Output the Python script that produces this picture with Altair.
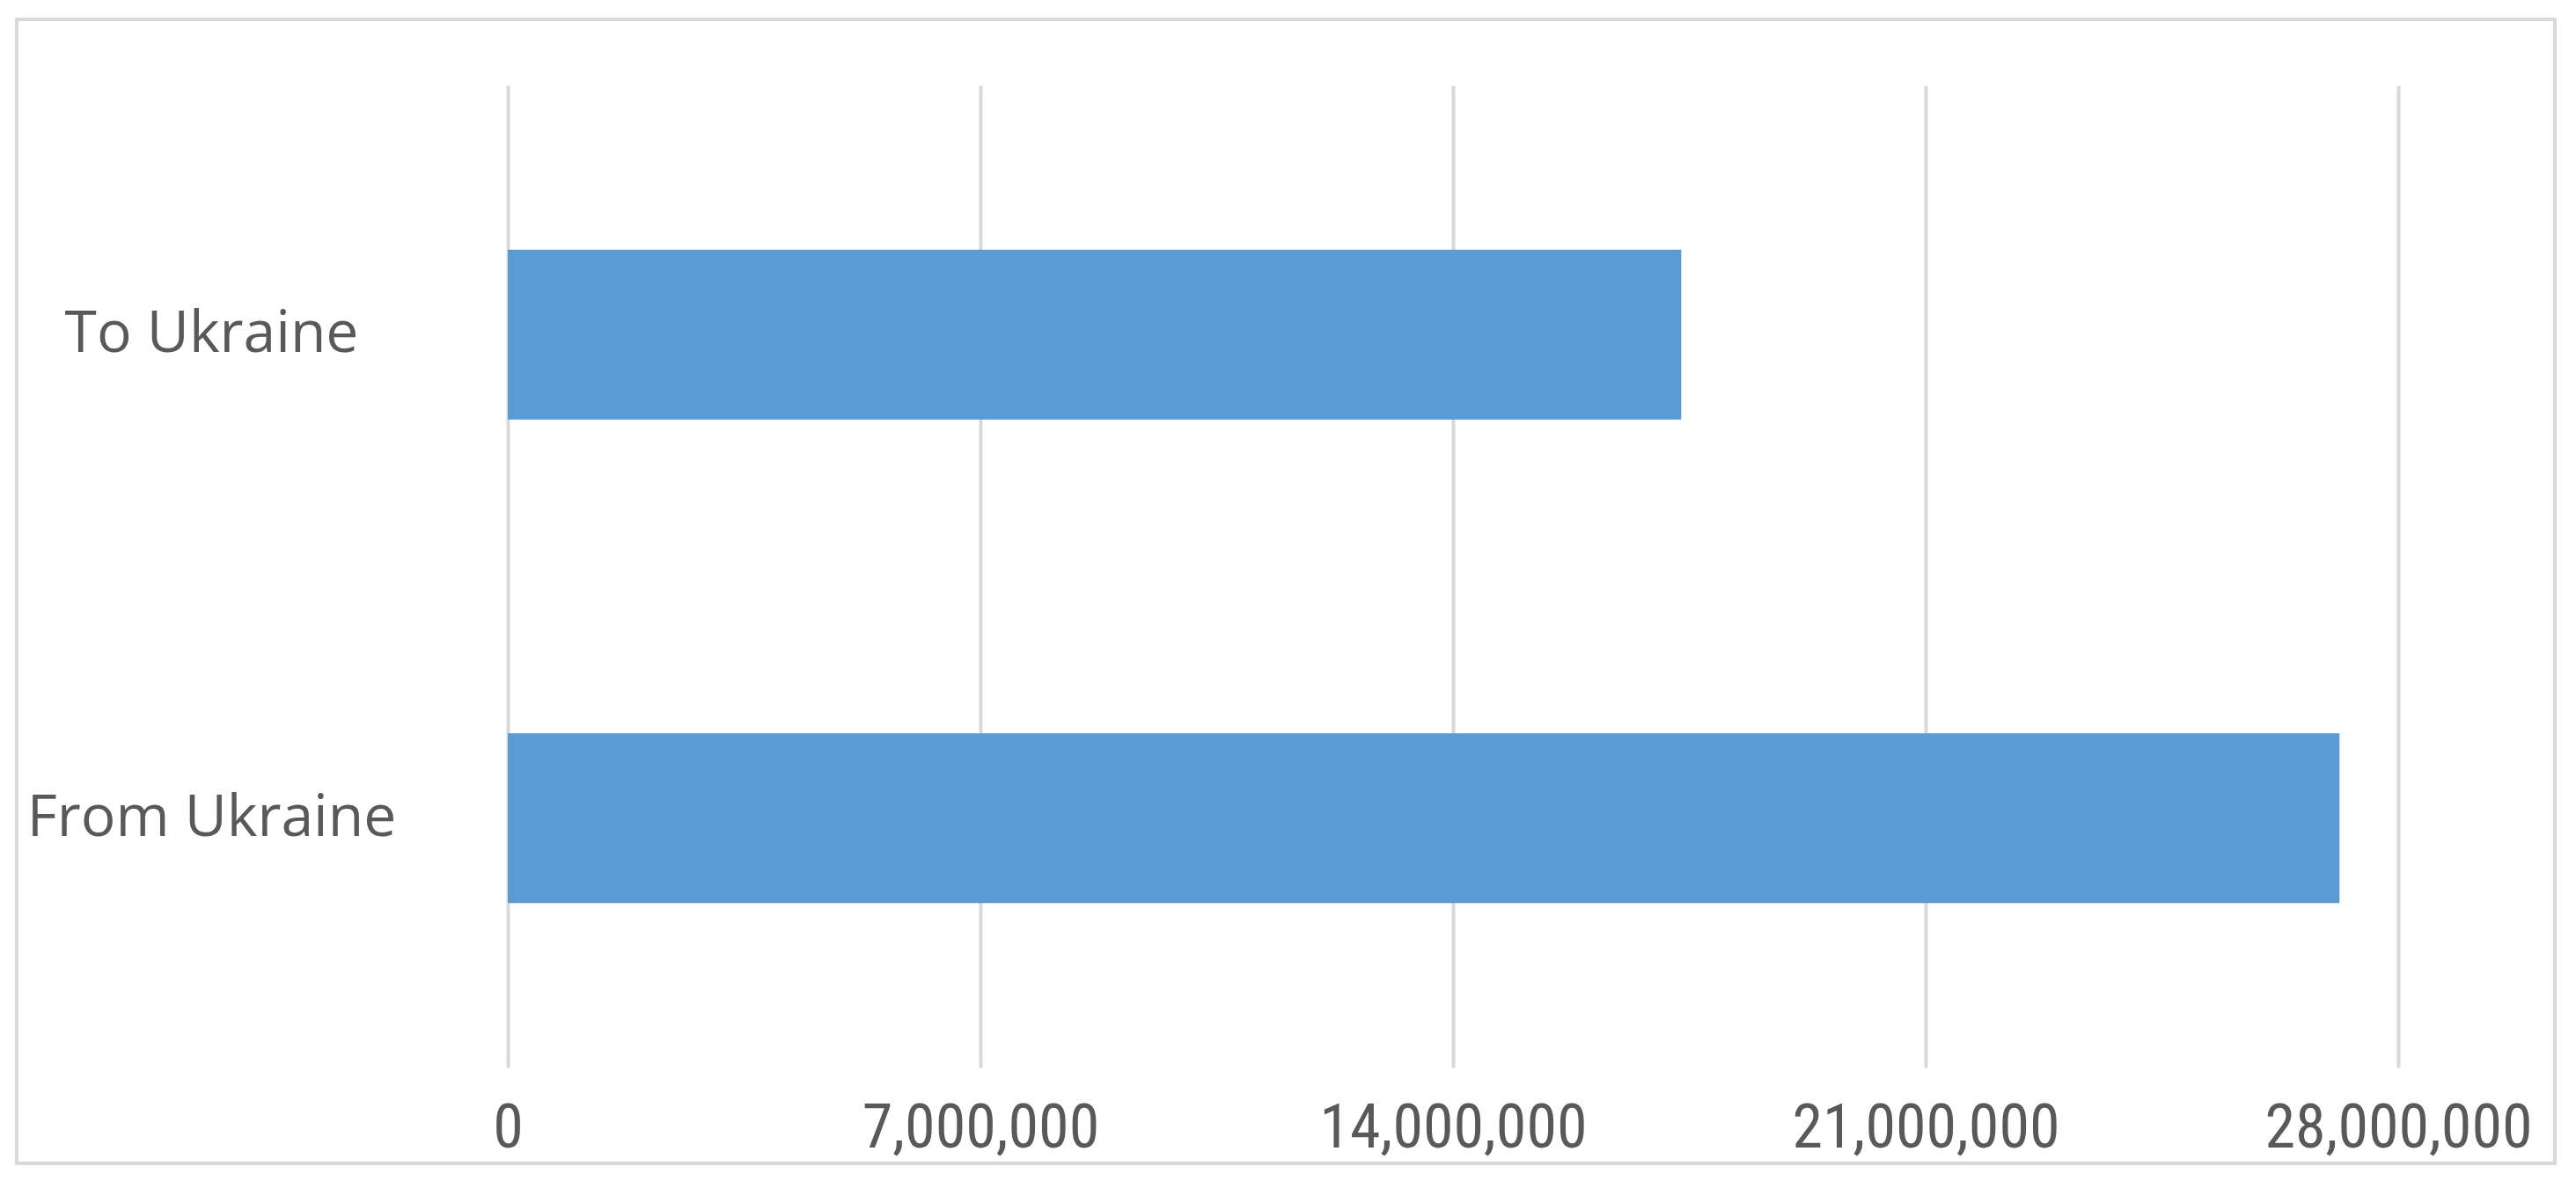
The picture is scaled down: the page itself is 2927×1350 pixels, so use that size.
import altair as alt
import pandas as pd

categories = ["To Ukraine", "From Ukraine"]
values = [17380000, 27130000]
tick_values = [0, 7000000, 14000000, 21000000, 28000000]

df = pd.DataFrame({"route": categories, "count": values})
frame_df = pd.DataFrame({"k": [0]})

frame = alt.Chart(frame_df).mark_rect(
    filled=False, stroke="#d9d9d9", strokeWidth=4
).encode(
    x=alt.value(-558), x2=alt.value(2326), y=alt.value(-75), y2=alt.value(1225)
)

bars = alt.Chart(df).mark_bar(color="#5b9bd5").encode(
    x=alt.X(
        "count:Q",
        scale=alt.Scale(domain=[0, 28000000], nice=False, zero=True),
        axis=alt.Axis(
            values=tick_values, format=",d", title=None, domain=False,
            ticks=False, tickSize=0, grid=True, gridColor="#d9d9d9", gridWidth=4,
            labelFont="Liberation Sans Narrow, Roboto Condensed, Open Sans",
            labelFontSize=70, labelColor="#595959", labelPadding=90,
            labelBaseline="alphabetic", labelFlush=False, labelLimit=1000,
            labelOverlap=False,
        ),
    ),
    y=alt.Y(
        "route:N", sort=categories,
        scale=alt.Scale(paddingInner=0.649, paddingOuter=0.34),
        axis=alt.Axis(
            title=None, domain=False, ticks=False, tickSize=0, grid=False,
            labelAlign="center", labelPadding=337, labelFont="Open Sans",
            labelFontSize=66, labelColor="#595959", labelBaseline="middle",
            labelLimit=1000,
        ),
    ),
)

chart = alt.layer(frame, bars).properties(
    width=2148, height=1116,
    autosize=alt.AutoSizeParams(type="none"),
    padding={"left": 569, "top": 89, "right": 180, "bottom": 115},
    background="white",
).configure_view(stroke=None)

chart.save("out.html", embed_options={"renderer": "svg", "actions": False})
